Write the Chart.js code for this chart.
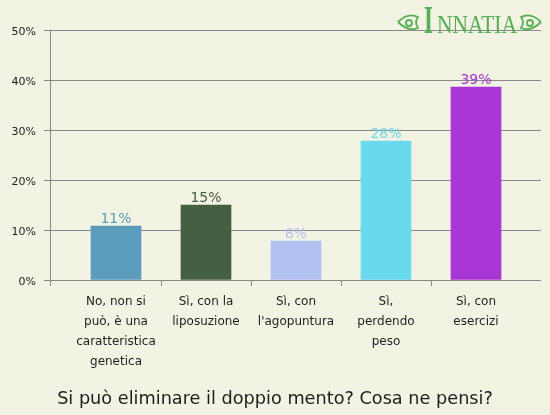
<!DOCTYPE html>
<html>
<head>
<meta charset="utf-8">
<script src="https://cdn.jsdelivr.net/npm/chart.js@4.4.1/dist/chart.umd.min.js"></script>
<style>
  html, body { margin: 0; padding: 0; background: #f3f3e3; }
  canvas { display: block; }
</style>
</head>
<body>
<canvas id="chart" width="550" height="415"></canvas>
<script>
// data
const categories = [
    ['No, non si', 'può, è una', 'caratteristica', 'genetica'],
    ['Sì, con la', 'liposuzione'],
    ['Sì, con', "l'agopuntura"],
    ['Sì,', 'perdendo', 'peso'],
    ['Sì, con', 'esercizi']
];
const values = [10.8, 15, 7.8, 27.8, 38.6];
const barColors = ['#5b9bbb', '#445f41', '#b3c0f2', '#69d9ee', '#a835d6'];
const yTicks = [0, 10, 20, 30, 40, 50];
const title = 'Si può eliminare il doppio mento? Cosa ne pensi?';

const GRID = '#888888';

// background, extended grid, axis line and tick marks
const framePlugin = {
    id: 'frame',
    beforeDraw(chart) {
        const ctx = chart.ctx;
        ctx.save();
        ctx.fillStyle = '#f3f3e3';
        ctx.fillRect(0, 0, chart.width, chart.height);
        ctx.restore();
    },
    beforeDatasetsDraw(chart) {
        const ctx = chart.ctx;
        const area = chart.chartArea;
        const y = chart.scales.y;
        const x = chart.scales.x;
        const axisX = 50, rightX = 541;
        ctx.save();
        ctx.strokeStyle = GRID;
        ctx.lineWidth = 1;
        ctx.beginPath();
        yTicks.forEach(v => {
            const py = Math.round(y.getPixelForValue(v)) + 0.5;
            ctx.moveTo(44, py);
            ctx.lineTo(rightX, py);
        });
        ctx.moveTo(axisX + 0.5, Math.round(area.top));
        ctx.lineTo(axisX + 0.5, Math.round(area.bottom) + 6);
        for (let i = 0; i < categories.length - 1; i++) {
            const px = Math.round((x.getPixelForValue(i) + x.getPixelForValue(i + 1)) / 2) + 0.5;
            ctx.moveTo(px, Math.round(area.bottom));
            ctx.lineTo(px, Math.round(area.bottom) + 6);
        }
        ctx.stroke();
        ctx.restore();
    },
    afterDatasetsDraw(chart) {
        const ctx = chart.ctx;
        const meta = chart.getDatasetMeta(0);
        ctx.save();
        // value labels
        ctx.font = '14px "DejaVu Sans"';
        ctx.textAlign = 'center';
        ctx.textBaseline = 'alphabetic';
        meta.data.forEach((bar, i) => {
            ctx.fillStyle = barColors[i];
            ctx.fillText(Math.round(values[i]) + '%', bar.x, bar.y - 3);
        });
        // title
        ctx.fillStyle = '#1e1e1e';
        ctx.font = '17.7px "DejaVu Sans"';
        ctx.textBaseline = 'middle';
        ctx.fillText(title, 275, 399);
        // logo
        drawLogo(ctx);
        ctx.restore();
    }
};

function drawLogo(ctx) {
    const green = '#52b152';
    ctx.save();
    ctx.fillStyle = green;
    ctx.textAlign = 'left';
    ctx.textBaseline = 'alphabetic';
    ctx.font = 'bold 40px "Liberation Serif"';
    let w = ctx.measureText('I').width;
    ctx.save();
    ctx.translate(424, 33);
    ctx.scale(9 / w, 1);
    ctx.fillText('I', 0, 0);
    ctx.restore();
    ctx.font = '25px "Liberation Serif"';
    w = ctx.measureText('NNATIA').width;
    ctx.save();
    ctx.translate(437, 33);
    ctx.scale(80 / w, 1);
    ctx.fillText('NNATIA', 0, 0);
    ctx.restore();
    // ornaments
    ctx.strokeStyle = green;
    ctx.lineWidth = 1.8;
    [[408, 22, 1], [531, 22, -1]].forEach(([cx, cy, d]) => {
        ctx.beginPath();
        ctx.moveTo(cx - 10 * d, cy);
        ctx.quadraticCurveTo(cx, cy - 10, cx + 10 * d, cy - 5);
        ctx.quadraticCurveTo(cx + 6 * d, cy, cx + 10 * d, cy + 6);
        ctx.quadraticCurveTo(cx, cy + 10, cx - 10 * d, cy);
        ctx.stroke();
        ctx.beginPath();
        ctx.arc(cx + 1 * d, cy + 1, 3, 0, Math.PI * 2);
        ctx.stroke();
    });
    ctx.restore();
}

new Chart(document.getElementById('chart'), {
    type: 'bar',
    data: {
        labels: categories,
        datasets: [{
            data: values,
            backgroundColor: barColors,
            borderWidth: 0,
            barThickness: 50
        }]
    },
    options: {
        responsive: false,
        animation: false,
        devicePixelRatio: 1,
        layout: { padding: { top: 30, right: 29, left: 0, bottom: 0 } },
        plugins: {
            legend: { display: false },
            tooltip: { enabled: false }
        },
        scales: {
            x: {
                offset: true,
                grid: { display: false, drawTicks: false },
                border: { display: false },
                ticks: {
                    color: '#1e1e1e',
                    font: { family: 'DejaVu Sans', size: 12, lineHeight: '20px' },
                    padding: 12,
                    maxRotation: 0,
                    autoSkip: false
                },
                afterFit(scale) { scale.height = 135; }
            },
            y: {
                min: 0,
                max: 50,
                afterBuildTicks(scale) { scale.ticks = yTicks.map(v => ({ value: v })); },
                // invisible tick marks only push the labels left
                grid: { color: 'rgba(0,0,0,0)', drawOnChartArea: false, drawTicks: true, tickLength: 35 },
                border: { display: false },
                ticks: {
                    color: '#1e1e1e',
                    font: { family: 'DejaVu Sans', size: 11 },
                    padding: 0,
                    labelOffset: 2,
                    callback: v => v + '%'
                },
                afterFit(scale) { scale.width = 71; }
            }
        }
    },
    plugins: [framePlugin]
});
</script>
</body>
</html>
